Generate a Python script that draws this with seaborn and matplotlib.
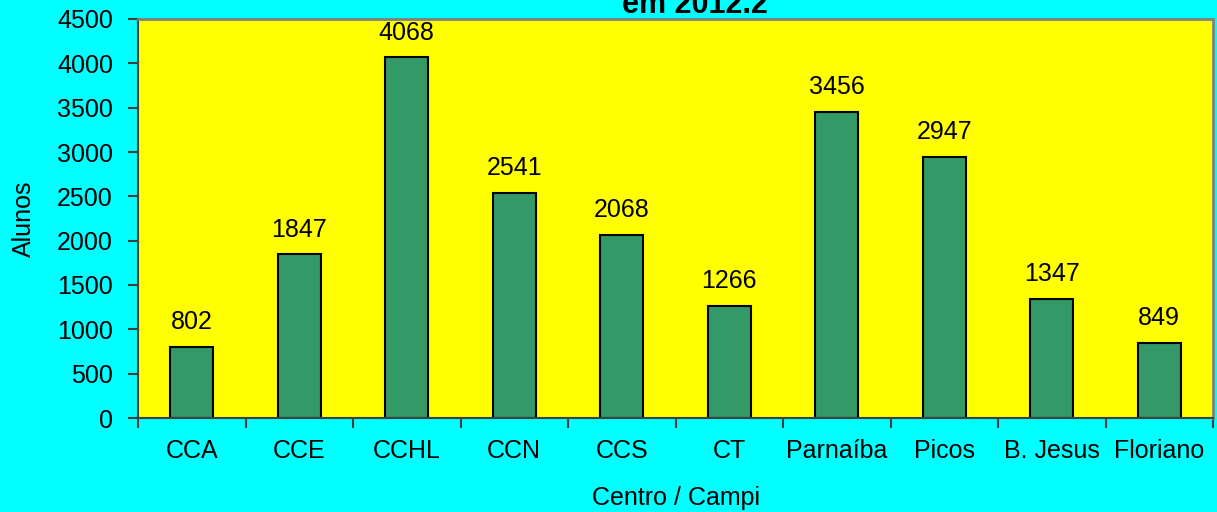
import matplotlib
matplotlib.use("Agg")
import matplotlib.pyplot as plt
import seaborn as sns
import numpy as np

categorias = ["CCA", "CCE", "CCHL", "CCN", "CCS", "CT", "Parnaíba", "Picos", "B. Jesus", "Floriano"]
alunos = [802, 1847, 4068, 2541, 2068, 1266, 3456, 2947, 1347, 849]
yticks = list(range(0, 4501, 500))

sns.set_theme(style="white")
plt.rcParams["font.family"] = ["Liberation Sans", "DejaVu Sans"]

fig = plt.figure(figsize=(12.17, 5.12), dpi=100, facecolor="#00FFFF")
ax = fig.add_axes([138 / 1217, 1 - 418 / 512, (1213 - 138) / 1217, (418 - 19) / 512])
ax.set_facecolor("#FFFF00")

sns.barplot(x=categorias, y=alunos, color="#339966", width=0.4,
            edgecolor="black", linewidth=1.5, saturation=1, ax=ax)

for i, v in enumerate(alunos):
    ax.annotate(str(v), (i, v), xytext=(0, 9), textcoords="offset points",
                ha="center", va="bottom", fontsize=18, color="black")

ax.set_xlim(-0.5, len(categorias) - 0.5)
ax.set_ylim(0, 4500)
ax.set_yticks(yticks)
ax.set_yticklabels([str(t) for t in yticks], fontsize=18, color="black")

# ticks between categories, like the original
ax.set_xticks(np.arange(len(categorias)))
ax.set_xticklabels(categorias, fontsize=18, color="black")
ax.set_xticks(np.arange(-0.5, len(categorias)), minor=True)
ax.tick_params(axis="x", which="major", bottom=True, length=0, pad=15)
ax.tick_params(axis="x", which="minor", bottom=True, length=7, width=1.5,
               color="#404040", direction="out")
ax.tick_params(axis="y", left=True, length=7, width=1.5, color="#404040",
               direction="out", pad=11)

for s in ["top", "right"]:
    ax.spines[s].set_color("#808080")
    ax.spines[s].set_linewidth(2)
for s in ["left", "bottom"]:
    ax.spines[s].set_color("#404040")
    ax.spines[s].set_linewidth(1.5)

ax.set_ylabel("Alunos", fontsize=18, color="black", labelpad=15)
ax.set_xlabel("Centro / Campi", fontsize=18, color="black", labelpad=17)

fig.text(695 / 1217, 1 - 13 / 512, "em 2012.2", ha="center", va="baseline",
         fontsize=22, fontweight="bold", color="black")

fig.savefig("out.png", dpi=100, facecolor=fig.get_facecolor())
